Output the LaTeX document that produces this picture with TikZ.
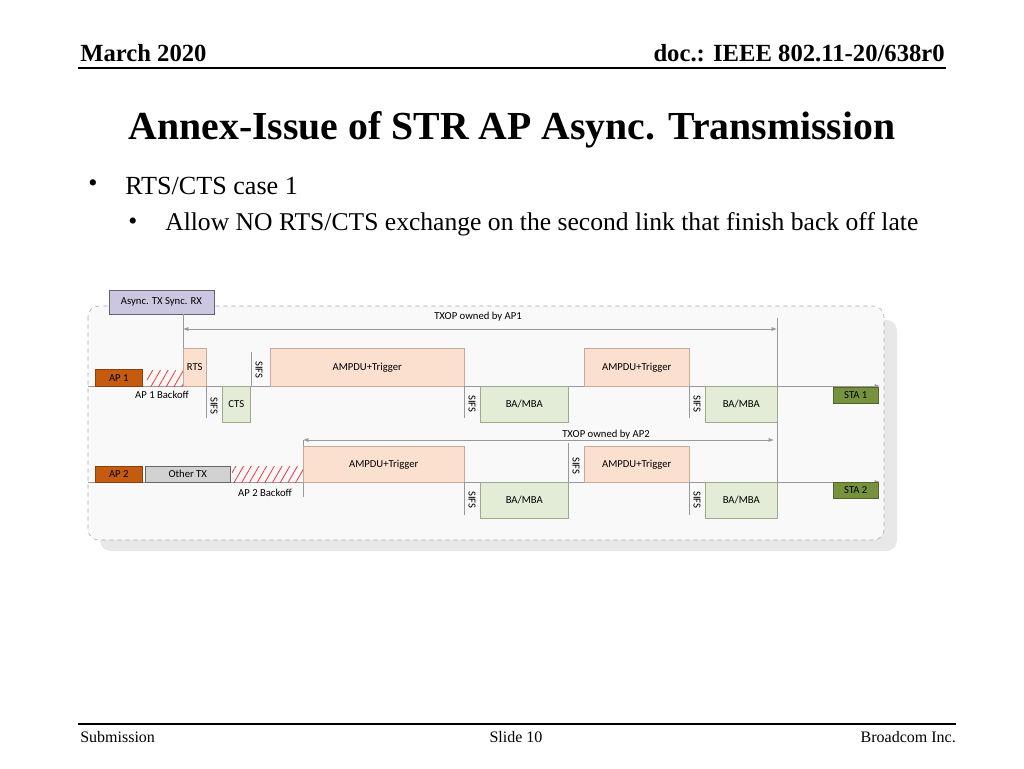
\documentclass[tikz,border=0pt]{standalone}
\usepackage{fontspec}
\setmainfont{Liberation Serif}
\newfontfamily\calfont{Carlito}
\usetikzlibrary{patterns.meta,arrows.meta}
\definecolor{peach}{HTML}{FBE0CF}
\definecolor{peachb}{HTML}{C8A898}
\definecolor{lgreen}{HTML}{E3ECD7}
\definecolor{lgreenb}{HTML}{9AAA8A}
\definecolor{apor}{HTML}{C55A11}
\definecolor{stag}{HTML}{76923C}
\definecolor{purp}{HTML}{CCC6E0}
\begin{document}
\begin{tikzpicture}[x=0.75pt,y=-0.75pt,
  lbl/.style={font=\calfont\fontsize{8}{9}\selectfont,inner sep=0pt},
  pbox/.style={draw=peachb,fill=peach,lbl},
  gbox/.style={draw=lgreenb,fill=lgreen,lbl},
  abox/.style={draw=apor!70!black,fill=apor,lbl},
  sbox/.style={draw=stag!70!black,fill=stag,lbl},
  hatch/.style={pattern={Lines[angle=60,distance=5pt,line width=0.6pt]},pattern color=red!80},
  thinl/.style={draw=gray!80,line width=0.5pt},
  sifs/.style={lbl,rotate=-90},
  tx/.style={font=\fontsize{#1}{#1}\selectfont,inner sep=0pt}]
\useasboundingbox (0,0) rectangle (1024,768);
% header
\node[font=\bfseries\fontsize{18.5}{18.5}\selectfont,inner sep=0pt,anchor=west] (h1) at (80,53) {March 2020};
\node[font=\bfseries\fontsize{18.5}{18.5}\selectfont,inner sep=0pt,anchor=east] (h2) at (945,53) {doc.: IEEE 802.11-20/638r0};
\draw[line width=0.8pt] (78,68) -- (946,68);
\node[font=\bfseries\fontsize{29.8}{29.8}\selectfont,inner sep=0pt] (title) at (512,130) {Annex-Issue of STR AP Async. Transmission};
\node[tx=19.6,anchor=west] (b1) at (88,186) {•};
\node[tx=19.6,anchor=west] (t1) at (125,186) {RTS/CTS case 1};
\node[tx=19.2,anchor=west] (b2) at (128,224) {•};
\node[tx=19.2,anchor=west] (t2) at (165,224) {Allow NO RTS/CTS exchange on the second link that finish back off late};
% footer
\draw[line width=0.8pt] (78,724) -- (956,724);
\node[tx=12,anchor=west] (f1) at (80,737) {Submission};
\node[tx=12] (f2) at (516,737) {Slide 10};
\node[tx=12,anchor=east] (f3) at (956,737) {Broadcom Inc.};
% diagram background
\fill[gray!18,rounded corners=8pt] (100,320) rectangle (897,551);
\draw[gray!70,dashed,fill=gray!5,rounded corners=8pt] (88,306) rectangle (884,540);
\node[draw=purp!50!black,fill=purp,lbl,minimum width=78.75pt,minimum height=18pt] (async) at (161.5,302) {Async. TX Sync. RX};
% TXOP AP1
\coordinate (t1a) at (183,329); \coordinate (t1b) at (777,329);
\draw[thinl,{Latex[length=4pt]}-{Latex[length=4pt]}] (t1a) -- (t1b);
\node[lbl] (txop1) at (478,317) {TXOP owned by AP1};
\draw[thinl] (183,314) -- (183,348);
\draw[thinl] (777,318) -- (777,518);
% AP1 line
\coordinate (l1a) at (88,386); \coordinate (l1b) at (880,386);
\draw[thinl,-{Latex[length=4pt]}] (l1a) -- (l1b);
\node[abox,minimum width=35.25pt,minimum height=12.75pt,anchor=north west] (ap1) at (95,369) {AP 1};
\fill[hatch] (147,370) rectangle (183,386);
\node[lbl] (bo1) at (162,395) {AP 1 Backoff};
\node[pbox,minimum width=17.25pt,minimum height=28.5pt,anchor=north west] (rts) at (183,348) {RTS};
\draw[thinl] (206,386) -- (206,418); \node[sifs] (s1) at (214,406) {SIFS};
\node[gbox,minimum width=21pt,minimum height=27pt,anchor=north west] (cts) at (222,386) {CTS};
\draw[thinl] (251,352) -- (251,386); \node[sifs] (s2) at (259,370) {SIFS};
\node[pbox,minimum width=145.5pt,minimum height=28.5pt,anchor=north west] (am1) at (270,348) {AMPDU+Trigger};
\draw[thinl] (464,386) -- (464,418); \node[sifs] (s3) at (472,404) {SIFS};
\node[gbox,minimum width=66pt,minimum height=27pt,anchor=north west] (ba1) at (480,386) {BA/MBA};
\node[pbox,minimum width=78.75pt,minimum height=28.5pt,anchor=north west] (am2) at (584,348) {AMPDU+Trigger};
\draw[thinl] (689,386) -- (689,418); \node[sifs] (s4) at (697,404) {SIFS};
\node[gbox,minimum width=54pt,minimum height=27pt,anchor=north west] (ba2) at (705,386) {BA/MBA};
\node[sbox,minimum width=33.75pt,minimum height=12pt,anchor=north west] (sta1) at (833,387) {STA 1};
% TXOP AP2
\coordinate (t2a) at (303,440); \coordinate (t2b) at (774,440);
\draw[thinl,{Latex[length=4pt]}-{Latex[length=4pt]}] (t2a) -- (t2b);
\node[lbl] (txop2) at (606,435) {TXOP owned by AP2};
\draw[thinl] (303,440) -- (303,497);
\draw[thinl] (568,443) -- (568,482); \node[sifs] (s5) at (576,466) {SIFS};
% AP2 line
\coordinate (l2a) at (88,482); \coordinate (l2b) at (880,482);
\draw[thinl,-{Latex[length=4pt]}] (l2a) -- (l2b);
\node[abox,minimum width=35.25pt,minimum height=12pt,anchor=north west] (ap2) at (95,466) {AP 2};
\node[draw=gray!80!black,fill=gray!35,lbl,minimum width=63.75pt,minimum height=12pt,anchor=north west] (other) at (145,466) {Other TX};
\fill[hatch] (232,466) rectangle (303,482);
\node[lbl] (bo2) at (265,493) {AP 2 Backoff};
\node[pbox,minimum width=120.75pt,minimum height=27pt,anchor=north west] (am3) at (303,446) {AMPDU+Trigger};
\node[pbox,minimum width=78.75pt,minimum height=27pt,anchor=north west] (am4) at (584,446) {AMPDU+Trigger};
\draw[thinl] (464,482) -- (464,515); \node[sifs] (s6) at (472,500) {SIFS};
\node[gbox,minimum width=66pt,minimum height=27pt,anchor=north west] (ba3) at (480,482) {BA/MBA};
\draw[thinl] (689,482) -- (689,515); \node[sifs] (s7) at (697,500) {SIFS};
\node[gbox,minimum width=54pt,minimum height=27pt,anchor=north west] (ba4) at (705,482) {BA/MBA};
\node[sbox,minimum width=33.75pt,minimum height=12pt,anchor=north west] (sta2) at (833,482) {STA 2};
\end{tikzpicture}
\end{document}
